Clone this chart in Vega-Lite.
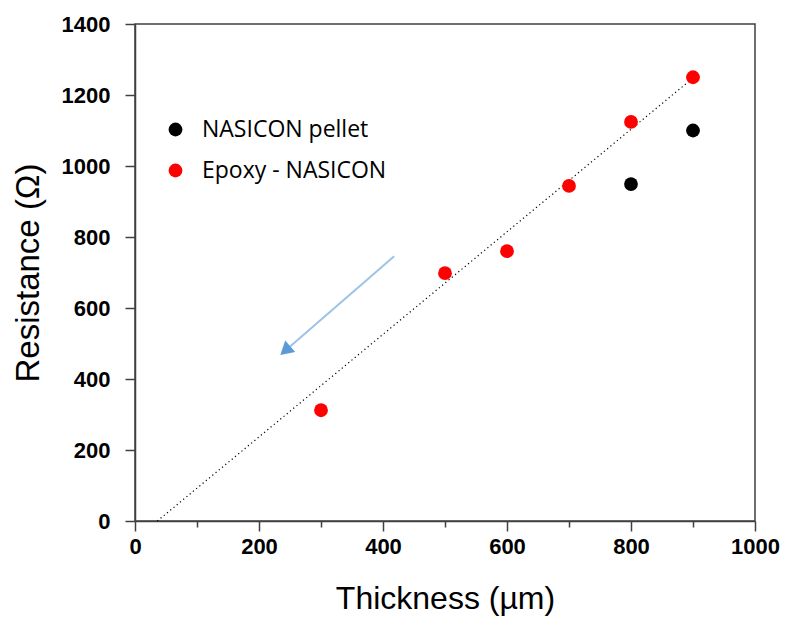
{
  "$schema": "https://vega.github.io/schema/vega-lite/v6.json",
  "autosize": {"type": "none"},
  "padding": {"left": 135, "top": 24, "right": 33, "bottom": 104},
  "width": 620,
  "height": 497,
  "background": "white",
  "config": {
    "view": {"stroke": "#404040", "strokeWidth": 1.5},
    "font": "Liberation Sans"
  },
  "datasets": {
    "pts": [
      {"thickness": 300, "resistance": 312, "sample": "Epoxy - NASICON"},
      {"thickness": 500, "resistance": 698, "sample": "Epoxy - NASICON"},
      {"thickness": 600, "resistance": 760, "sample": "Epoxy - NASICON"},
      {"thickness": 700, "resistance": 944, "sample": "Epoxy - NASICON"},
      {"thickness": 800, "resistance": 1124, "sample": "Epoxy - NASICON"},
      {"thickness": 900, "resistance": 1250, "sample": "Epoxy - NASICON"},
      {"thickness": 800, "resistance": 949, "sample": "NASICON pellet"},
      {"thickness": 900, "resistance": 1100, "sample": "NASICON pellet"}
    ],
    "fit": [
      {"thickness": 36, "resistance": 0},
      {"thickness": 900, "resistance": 1248}
    ],
    "arrow": [
      {"x1": 418, "y1": 746, "x2": 245, "y2": 484}
    ]
  },
  "layer": [
    {
      "data": {"name": "fit"},
      "mark": {"type": "line", "color": "black", "strokeWidth": 1.2, "strokeDash": [1.2, 3]},
      "encoding": {
        "x": {
          "field": "thickness", "type": "quantitative",
          "scale": {"domain": [0, 1000], "nice": false},
          "axis": {
            "title": "Thickness (\u00b5m)",
            "titleFontSize": 32, "titleFontWeight": "normal", "titleColor": "black", "titlePadding": 26,
            "values": [0, 100, 200, 300, 400, 500, 600, 700, 800, 900, 1000],
            "format": "d",
            "labelExpr": "datum.value % 200 === 0 ? datum.label : ''",
            "labelFontSize": 22, "labelFontWeight": "bold", "labelColor": "black", "labelPadding": 5,
            "labelFlush": false, "labelOverlap": false,
            "tickSize": {"condition": {"test": "datum.value % 200 === 0", "value": 10}, "value": 6},
            "tickColor": "#404040", "tickWidth": 1.5,
            "domainColor": "#404040", "domainWidth": 1.5,
            "grid": false
          }
        },
        "y": {
          "field": "resistance", "type": "quantitative",
          "scale": {"domain": [0, 1400], "nice": false},
          "axis": {
            "title": "Resistance (\u03a9)",
            "titleFontSize": 33, "titleFontWeight": "normal", "titleColor": "black", "titlePadding": 16,
            "values": [0, 100, 200, 300, 400, 500, 600, 700, 800, 900, 1000, 1100, 1200, 1300, 1400],
            "labelExpr": "datum.value % 200 === 0 ? datum.label : ''",
            "format": "d",
            "labelFontSize": 22, "labelFontWeight": "bold", "labelColor": "black", "labelPadding": 15,
            "labelFlush": false, "labelOverlap": false,
            "tickSize": {"condition": {"test": "datum.value % 200 === 0", "value": 10}, "value": 6},
            "tickColor": "#404040", "tickWidth": 1.5,
            "domainColor": "#404040", "domainWidth": 1.5,
            "grid": false
          }
        }
      }
    },
    {
      "data": {"name": "arrow"},
      "mark": {"type": "rule", "color": "#9DC3E6", "strokeWidth": 2},
      "encoding": {
        "x": {"field": "x1", "type": "quantitative"},
        "y": {"field": "y1", "type": "quantitative"},
        "x2": {"field": "x2"},
        "y2": {"field": "y2"}
      }
    },
    {
      "data": {"name": "arrow"},
      "mark": {"type": "point", "shape": "triangle", "filled": true, "color": "#5B9BD5", "opacity": 1, "size": 230, "angle": 229},
      "encoding": {
        "x": {"field": "x2", "type": "quantitative"},
        "y": {"field": "y2", "type": "quantitative"}
      }
    },
    {
      "data": {"name": "pts"},
      "mark": {"type": "circle", "size": 190, "opacity": 1},
      "encoding": {
        "x": {"field": "thickness", "type": "quantitative"},
        "y": {"field": "resistance", "type": "quantitative"},
        "color": {
          "field": "sample", "type": "nominal",
          "scale": {"domain": ["NASICON pellet", "Epoxy - NASICON"], "range": ["#000000", "#FF0000"]},
          "legend": {
            "title": null,
            "orient": "none", "legendX": 29, "legendY": 94,
            "symbolType": "circle", "symbolSize": 190, "symbolOpacity": 1,
            "labelFont": "Open Sans", "labelFontSize": 23, "labelColor": "black", "labelOffset": 15,
            "rowPadding": 17, "labelLimit": 400
          }
        }
      }
    }
  ]
}
